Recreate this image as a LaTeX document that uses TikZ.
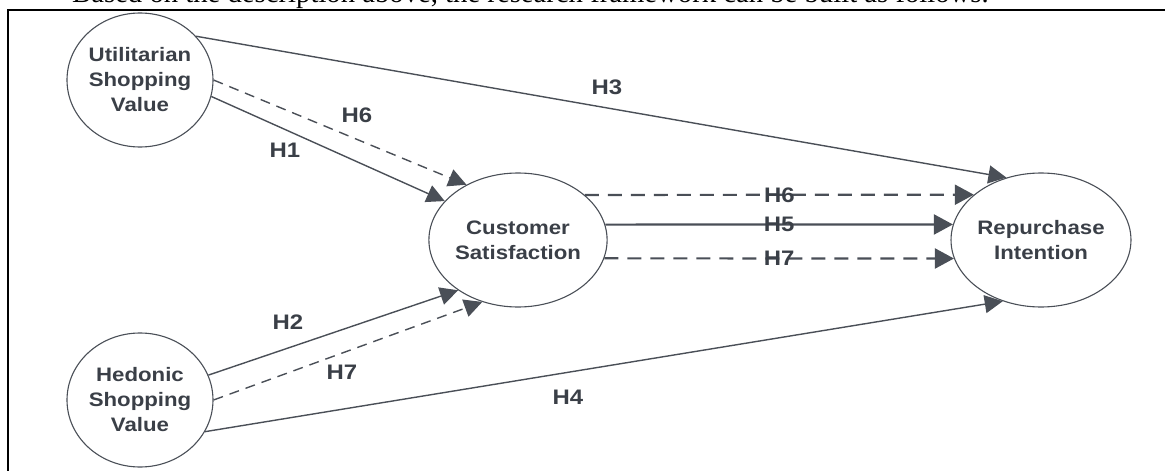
\documentclass[tikz,border=0pt]{standalone}
\usepackage{fontspec}
\setmainfont{Liberation Serif}
\newfontfamily\diagfont[FakeStretch=1.14]{Liberation Sans}
\usetikzlibrary{shapes.geometric,arrows.meta}
\definecolor{inkgrey}{HTML}{3A3F47}
\definecolor{linegrey}{HTML}{4A4F57}

\begin{document}
\begin{tikzpicture}[
  x=1pt, y=-1pt,
  construct/.style={draw=linegrey, line width=1.1pt, ellipse, minimum width=146pt, minimum height=134pt, inner sep=0pt, align=center, text=inkgrey, font=\diagfont\bfseries\fontsize{19.5}{25}\selectfont},
  hyp/.style={font=\diagfont\bfseries\fontsize{21}{24}\selectfont, text=inkgrey, inner sep=0pt},
  link/.style={draw=linegrey, line width=1.4pt, -{Triangle[length=18pt,width=18pt]}},
  dlink/.style={link, dash pattern=on 10pt off 7pt},
  hlink/.style={link, line width=2.2pt, -{Triangle[length=19pt,width=20pt]}},
  hdlink/.style={hlink, dash pattern=on 14pt off 9pt},
]
  \useasboundingbox (0,0) rectangle (1165,471);
  \clip (0,0) rectangle (1165,471);
  % sentence above the frame, cut by the page edge
  \node[anchor=base west, inner sep=0pt, font=\fontsize{28.7}{29}\selectfont] (intro) at (72,2) {Based on the description above, the research framework can be built as follows.};
  % frame
  \draw[line width=2pt] (8,10) rectangle (1200,520);
  % constructs
  \node[construct] (util) at (140,80)   {Utilitarian\\Shopping\\Value};
  \node[construct] (hed)  at (140,400)  {Hedonic\\Shopping\\Value};
  \node[construct] (cs)   at (518,240)  {Customer\\Satisfaction};
  \node[construct] (rep)  at (1041,240) {Repurchase\\Intention};
  % direct and mediated paths
  \draw[link]  (util.38)  -- (rep.119);
  \draw[dlink] (util.0)   -- (cs.133);
  \draw[link]  (util.-13) -- (cs.152);
  \draw[link]  (hed.20)   -- (cs.220);
  \draw[dlink] (hed.0)    -- (cs.240);
  \draw[link]  (hed.-26)  -- (rep.238);
  \draw[hdlink] (cs.34)   -- node[hyp] (lhsix)  {H6} (rep.146);
  \draw[hlink]  (cs.10)   -- node[hyp] (lhfive) {H5} (rep.170);
  \draw[hdlink] (cs.-12)  -- node[hyp] (lhsevenb) {H7} (rep.192);
  % hypothesis labels
  \node[hyp] (lhthree) at (607,87)  {H3};
  \node[hyp] (lhone)   at (285,150) {H1};
  \node[hyp] (lhsixa)  at (357,115) {H6};
  \node[hyp] (lhtwo)   at (288,322) {H2};
  \node[hyp] (lhseven) at (342,372) {H7};
  \node[hyp] (lhfour)  at (568,397) {H4};
\end{tikzpicture}
\end{document}
